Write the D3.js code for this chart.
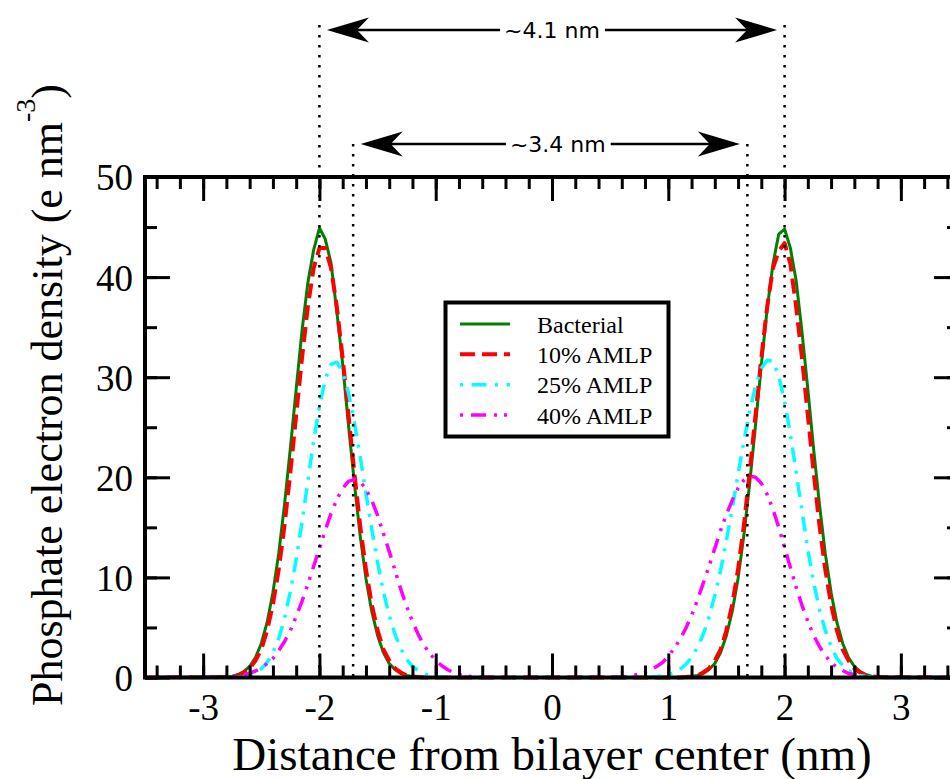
<!DOCTYPE html>
<html>
<head>
<meta charset="utf-8">
<script src="https://cdn.jsdelivr.net/npm/d3@7"></script>
<style>
body{margin:0;background:#fff;}
svg{display:block;}
</style>
</head>
<body>
<div id="chart"></div>
<script>
// distance from bilayer center (nm)
var zGrid=[-3.5,
	-2.80,-2.75,-2.70,-2.65,-2.60,-2.55,-2.50,-2.45,-2.40,-2.35,
	-2.30,-2.25,-2.20,-2.15,-2.10,-2.05,-2.00,-1.95,-1.90,-1.85,
	-1.80,-1.75,-1.70,-1.65,-1.60,-1.55,-1.50,-1.45,-1.40,-1.35,
	-1.30,-1.25,-1.20,-1.15,-1.10,-1.05,-1.00,-0.95,-0.90,-0.85,
	-0.80,-0.75,-0.70,-0.65,-0.60,
	0,
	0.60,0.65,0.70,0.75,0.80,0.85,0.90,0.95,1.00,1.05,
	1.10,1.15,1.20,1.25,1.30,1.35,1.40,1.45,1.50,1.55,
	1.60,1.65,1.70,1.75,1.80,1.85,1.90,1.95,2.00,2.05,
	2.10,2.15,2.20,2.25,2.30,2.35,2.40,2.45,2.50,2.55,
	2.60,2.65,2.70,2.75,2.80,
	3.5];

var bacterial=[0,
	0.05,0.1,0.3,0.6,1.1,2.0,3.4,5.5,8.5,12.4,
	17.3,22.9,28.8,34.6,39.4,42.7,44.9,43.8,41.4,36.5,
	31.3,25.2,19.5,14.2,9.9,6.6,4.2,2.5,1.4,0.8,
	0.4,0.2,0.1,0.05,0,0,0,0,0,0,
	0,0,0,0,0,
	0,
	0,0,0,0,0,0,0,0,0,0,
	0,0.05,0.1,0.2,0.4,0.8,1.4,2.5,4.2,6.6,
	9.9,14.2,19.4,25.2,31.2,36.8,41.3,44.3,44.8,42.9,
	39.6,34.5,28.8,22.8,17.3,12.4,8.5,5.5,3.4,2.0,
	1.1,0.6,0.3,0.1,0.05,
	0];

var amlp10=[0,
	0.05,0.1,0.2,0.5,0.9,1.7,2.8,4.7,7.3,10.8,
	15.2,20.5,26.2,31.9,37.0,40.9,42.9,42.9,40.9,37.0,
	31.9,26.2,20.5,15.2,10.8,7.3,4.7,2.8,1.7,0.9,
	0.5,0.2,0.1,0.05,0,0,0,0,0,0,
	0,0,0,0,0,
	0,
	0,0,0,0,0,0,0,0,0,0,
	0,0.05,0.1,0.2,0.5,0.9,1.7,2.8,4.7,7.3,
	10.8,15.2,20.5,26.2,31.9,37.0,40.9,42.6,43.4,41.3,
	37.0,31.9,26.2,20.5,15.2,10.8,7.3,4.7,2.8,1.7,
	0.9,0.5,0.2,0.1,0.05,
	0];

var amlp25=[0,
	0,0.03,0.06,0.13,0.25,0.48,0.87,1.5,2.5,3.9,
	5.9,8.6,11.8,15.5,19.6,23.6,27.1,29.8,31.3,31.5,
	30.5,28.4,25.5,22.1,18.4,14.8,11.5,8.6,6.2,4.3,
	2.9,1.8,1.1,0.7,0.4,0.2,0.1,0.05,0,0,
	0,0,0,0,0,
	0,
	0,0,0,0,0,0.05,0.1,0.17,0.3,0.5,
	0.8,1.3,2.0,3.0,4.3,6.0,8.2,10.7,13.7,16.9,
	20.3,23.6,26.6,29.1,30.9,31.7,31.6,30.1,27.6,24.3,
	20.5,16.6,12.8,9.5,6.8,4.7,3.1,1.9,1.2,0.7,
	0.4,0.2,0.1,0.05,0,
	0];

var amlp40=[0,
	0.06,0.1,0.17,0.28,0.43,0.65,0.96,1.4,1.9,2.7,
	3.6,4.7,6.1,7.6,9.3,11.1,12.9,14.7,16.4,17.8,
	18.9,19.6,19.8,19.6,18.8,17.7,16.2,14.4,12.6,10.7,
	8.8,7.1,5.6,4.3,3.2,2.4,1.7,1.2,0.8,0.5,
	0.3,0.2,0.1,0.05,0,
	0,
	0.05,0.1,0.2,0.35,0.5,0.8,1.1,1.5,2.1,2.9,
	3.8,4.9,6.2,7.7,9.4,11.1,12.9,14.7,16.3,17.7,
	18.9,19.7,20.1,20.0,19.4,18.3,16.8,15.0,13.0,11.0,
	9.0,7.2,5.6,4.2,3.1,2.2,1.5,1.0,0.7,0.4,
	0.3,0.2,0.1,0.05,0,
	0];

var seriesNames=["Bacterial","10% AMLP","25% AMLP","40% AMLP"];
var xTicks=[-3,-2,-1,0,1,2,3];
var yTicks=[0,10,20,30,40,50];

// guide lines at the phosphate peaks and the spans between them
var guideX=[-2.0,2.0,-1.71,1.68];
var spanLabels=["~4.1 nm","~3.4 nm"];
var spanFrom=[-2.0,-1.71];
var spanTo=[2.0,1.68];
var spanTextX=[0,0.05];

var colors=["#008000","#ff0000","#00ffff","#ff00ff"];
var dashes=[null,"15,7","3,8.5,15,8.5","15,8,3,7,3,8"];
var dashOffsets=[0,0,0,33];
var widths=[3,4,3.5,3.5];

var serif="'Liberation Serif','Times New Roman',Times,serif";
var sans="'DejaVu Sans',Verdana,sans-serif";

var svg=d3.select("#chart").append("svg")
	.attr("width",950)
	.attr("height",779);

var x=d3.scaleLinear().domain([-3.5,3.5]).range([145,959]);
var y=d3.scaleLinear().domain([0,50]).range([677.5,177]);

// curves
var allSeries=[bacterial,amlp10,amlp25,amlp40];
allSeries.forEach(function(vals,k){
	var line=d3.line()
		.x(function(d,i){return x(zGrid[i]);})
		.y(function(d){return y(d);});
	svg.append("path")
		.datum(vals)
		.attr("d",line)
		.attr("fill","none")
		.attr("stroke",colors[k])
		.attr("stroke-width",widths[k])
		.attr("stroke-dasharray",dashes[k])
		.attr("stroke-dashoffset",dashOffsets[k])
		.attr("stroke-linejoin","round");
});

function drawAxis(axis,tx,ty){
	var g=svg.append("g")
		.attr("transform","translate("+tx+","+ty+")")
		.call(axis);
	g.select(".domain").remove();
	g.selectAll("line").attr("stroke","#000").attr("stroke-width",3);
	g.selectAll("text")
		.attr("fill","#000")
		.style("font-family",serif)
		.style("font-size","37px");
	return g;
}

// minor ticks
drawAxis(d3.axisBottom(x).tickValues(x.ticks(35)).tickSize(-12).tickFormat(""),0,677.5);
drawAxis(d3.axisTop(x).tickValues(x.ticks(35)).tickSize(-12).tickFormat(""),0,177);
drawAxis(d3.axisLeft(y).tickValues(y.ticks(10)).tickSize(-12).tickFormat(""),145,0);
drawAxis(d3.axisRight(y).tickValues(y.ticks(10)).tickSize(-12).tickFormat(""),959,0);

// major ticks
var bottomAxis=drawAxis(d3.axisBottom(x).tickValues(xTicks).tickSize(-24).tickFormat(function(d){return String(d);}),0,677.5);
bottomAxis.selectAll("text").attr("y",42.5).attr("dy",null);
drawAxis(d3.axisTop(x).tickValues(xTicks).tickSize(-24).tickFormat(""),0,177);
var leftAxis=drawAxis(d3.axisLeft(y).tickValues(yTicks).tickSize(-25).tickPadding(12).tickFormat(function(d){return String(d);}),145,0);
leftAxis.selectAll("text").attr("dy","0.35em");
drawAxis(d3.axisRight(y).tickValues(yTicks).tickSize(-25).tickFormat(""),959,0);

// frame
svg.append("rect")
	.attr("x",145)
	.attr("y",177)
	.attr("width",814)
	.attr("height",500.5)
	.attr("fill","none")
	.attr("stroke","#000")
	.attr("stroke-width",4);

// axis titles
svg.append("text")
	.attr("x",x(0))
	.attr("y",770)
	.attr("text-anchor","middle")
	.style("font-family",serif)
	.style("font-size","47px")
	.text("Distance from bilayer center (nm)");

var yTitle=svg.append("text")
	.attr("transform","translate(62,395) rotate(-90)")
	.attr("text-anchor","middle")
	.style("font-family",serif)
	.style("font-size","44px");
yTitle.append("tspan").text("Phosphate electron density (e nm");
yTitle.append("tspan").attr("dy",-27).style("font-size","28px").text("-3");
yTitle.append("tspan").attr("dy",27).text(")");

// dotted guides
var guideTop=[25,25,144,144];
guideX.forEach(function(g,i){
	svg.append("line")
		.attr("x1",x(g)).attr("x2",x(g))
		.attr("y1",guideTop[i]).attr("y2",677)
		.attr("stroke","#000")
		.attr("stroke-width",2.5)
		.attr("stroke-dasharray","2.5,7.5");
});

// double-headed span arrows
var spanY=[30,144];
function arrowHead(tipX,tipY,dir){
	var len=42,half=12.5,notch=30;
	return "M"+tipX+" "+tipY+
		" L"+(tipX+dir*len)+" "+(tipY-half)+
		" L"+(tipX+dir*notch)+" "+tipY+
		" L"+(tipX+dir*len)+" "+(tipY+half)+" Z";
}
spanLabels.forEach(function(lab,i){
	var left=x(spanFrom[i])+7.5;
	var right=x(spanTo[i])-7.5;
	var yy=spanY[i];
	var t=svg.append("text")
		.attr("x",x(spanTextX[i]))
		.attr("y",yy+7.8)
		.attr("text-anchor","middle")
		.style("font-family",sans)
		.style("font-size","22px")
		.text(lab);
	var bb=t.node().getBBox();
	svg.append("line")
		.attr("x1",left+20).attr("x2",bb.x-4)
		.attr("y1",yy).attr("y2",yy)
		.attr("stroke","#000").attr("stroke-width",2.5);
	svg.append("line")
		.attr("x1",bb.x+bb.width+5).attr("x2",right-20)
		.attr("y1",yy).attr("y2",yy)
		.attr("stroke","#000").attr("stroke-width",2.5);
	svg.append("path").attr("d",arrowHead(left,yy,1)).attr("fill","#000");
	svg.append("path").attr("d",arrowHead(right,yy,-1)).attr("fill","#000");
});

// legend
var legend=svg.append("g");
legend.append("rect")
	.attr("x",445.5)
	.attr("y",302.5)
	.attr("width",223)
	.attr("height",134)
	.attr("fill","#fff")
	.attr("stroke","#000")
	.attr("stroke-width",4);
var legendRow=d3.scaleLinear().domain([0,3]).range([324,415]);
seriesNames.forEach(function(name,k){
	var ly=legendRow(k);
	legend.append("line")
		.attr("x1",460).attr("x2",510)
		.attr("y1",ly).attr("y2",ly)
		.attr("stroke",colors[k])
		.attr("stroke-width",widths[k])
		.attr("stroke-dasharray",dashes[k])
		.attr("stroke-dashoffset",dashOffsets[k]);
	legend.append("text")
		.attr("x",537)
		.attr("y",ly+8.5)
		.style("font-family",serif)
		.style("font-size","24px")
		.text(name);
});
</script>
</body>
</html>
